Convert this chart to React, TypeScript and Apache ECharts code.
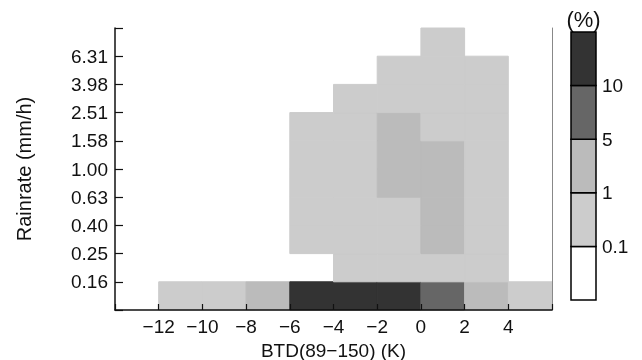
import React, { useEffect, useRef } from "react";
import * as echarts from "echarts";

// BTD bin starts (K), each bin is 2 K wide
const btdBins = [-12, -10, -8, -6, -4, -2, 0, 2, 4];
// Rain-rate tick labels at bin edges (index 0 = bottom edge 0.10, index 10 = top edge 10)
const rainTickLabels = ["", "0.16", "0.25", "0.40", "0.63", "1.00", "1.58", "2.51", "3.98", "6.31", ""];
// Frequency class per BTD bin, rows bottom to top (0: <0.1%, 1: 0.1–1%, 2: 1–5%, 3: 5–10%, 4: >10%)
const classM12 = [1, 0, 0, 0, 0, 0, 0, 0, 0, 0];
const classM10 = [1, 0, 0, 0, 0, 0, 0, 0, 0, 0];
const classM8 = [2, 0, 0, 0, 0, 0, 0, 0, 0, 0];
const classM6 = [4, 0, 1, 1, 1, 1, 1, 0, 0, 0];
const classM4 = [4, 1, 1, 1, 1, 1, 1, 1, 0, 0];
const classM2 = [4, 1, 1, 1, 2, 2, 2, 1, 1, 0];
const classP0 = [3, 1, 2, 2, 2, 2, 1, 1, 1, 1];
const classP2 = [2, 1, 1, 1, 1, 1, 1, 1, 1, 0];
const classP4 = [1, 0, 0, 0, 0, 0, 0, 0, 0, 0];
const columns = [classM12, classM10, classM8, classM6, classM4, classM2, classP0, classP2, classP4];
// Colour bar class boundaries labels
const barLabels = ["", "0.1", "1", "5", "10", ""];
const classColors = ["#ffffff", "#cccccc", "#bbbbbb", "#666666", "#333333"];

const FONT = "Liberation Sans, Arial, sans-serif";

export default function App() {
  const ref = useRef<HTMLDivElement>(null);
  useEffect(() => {
    if (!ref.current) return;
    const chart = echarts.init(ref.current, null, { renderer: "svg" });
    const cells: number[][] = [];
    columns.forEach((col, ci) => {
      col.forEach((lv, r) => {
        if (lv > 0) cells.push([btdBins[ci], r, lv]);
      });
    });
    const barData = classColors.map((_, i) => [0, i, i]);
    const fmtX = (v: number) => {
      if (v === -14 || v === 6) return "";
      return v < 0 ? "\u2212" + Math.abs(v) : String(v);
    };
    chart.setOption({
      animation: false,
      grid: [
        { left: 115, right: 90, top: 28, bottom: 50, containLabel: false, outerBoundsMode: "none" },
        { left: 571, width: 25, top: 32, height: 268, containLabel: false, outerBoundsMode: "none" },
      ],
      xAxis: [
        {
          type: "value",
          gridIndex: 0,
          min: -14,
          max: 6,
          interval: 2,
          z: 5,
          name: "BTD(89\u2212150) (K)",
          nameLocation: "middle",
          nameGap: 27,
          nameTextStyle: { fontFamily: FONT, fontSize: 19, color: "#111" },
          axisLine: { show: true, onZero: false, lineStyle: { color: "#111", width: 1.5 } },
          axisTick: { show: true, inside: true, length: 6, lineStyle: { color: "#111", width: 1.2 } },
          axisLabel: { formatter: fmtX, fontFamily: FONT, fontSize: 19, color: "#111", margin: 7, showMinLabel: true, showMaxLabel: true },
          splitLine: { show: false },
        },
        {
          type: "value",
          gridIndex: 1,
          min: 0,
          max: 1,
          position: "top",
          name: "(%)",
          nameLocation: "middle",
          nameGap: 2,
          nameTextStyle: { fontFamily: FONT, fontSize: 22, color: "#111" },
          axisLine: { show: false, onZero: false },
          axisTick: { show: false },
          axisLabel: { show: false },
          splitLine: { show: false },
        },
      ],
      yAxis: [
        {
          type: "value",
          gridIndex: 0,
          min: 0,
          max: 10,
          interval: 1,
          z: 5,
          name: "Rainrate (mm/h)",
          nameLocation: "middle",
          nameGap: 81,
          nameTextStyle: { fontFamily: FONT, fontSize: 20, color: "#111" },
          axisLine: { show: true, onZero: false, lineStyle: { color: "#111", width: 1.5 } },
          axisTick: { show: true, inside: true, length: 8, lineStyle: { color: "#111", width: 1.2 } },
          axisLabel: {
            formatter: (v: number) => rainTickLabels[Math.round(v)] ?? "",
            fontFamily: FONT,
            fontSize: 19,
            color: "#111",
            margin: 7,
            showMinLabel: true,
            showMaxLabel: true,
          },
          splitLine: { show: false },
        },
        {
          type: "value",
          gridIndex: 0,
          min: 0,
          max: 10,
          position: "right",
          z: 5,
          axisLine: { show: true, onZero: false, lineStyle: { color: "#888", width: 1 } },
          axisTick: { show: false },
          axisLabel: { show: false },
          splitLine: { show: false },
        },
        {
          type: "value",
          gridIndex: 1,
          min: 0,
          max: 5,
          interval: 1,
          position: "right",
          axisLine: { show: false, onZero: false },
          axisTick: { show: false },
          axisLabel: {
            formatter: (v: number) => barLabels[Math.round(v)] ?? "",
            fontFamily: FONT,
            fontSize: 19,
            color: "#111",
            margin: 6,
            showMinLabel: true,
            showMaxLabel: true,
          },
          splitLine: { show: false },
        },
      ],
      series: [
        {
          type: "custom",
          xAxisIndex: 0,
          yAxisIndex: 0,
          z: 1,
          data: cells,
          renderItem: (params: any, api: any) => {
            const x = api.value(0);
            const r = api.value(1);
            const lv = api.value(2);
            const p0 = api.coord([x, r]);
            const p1 = api.coord([x + 2, r + 1]);
            const c = classColors[lv];
            return {
              type: "rect",
              shape: { x: p0[0], y: p1[1], width: p1[0] - p0[0], height: p0[1] - p1[1] },
              style: { fill: c, stroke: c, lineWidth: 1 },
            };
          },
        },
        {
          type: "custom",
          xAxisIndex: 1,
          yAxisIndex: 2,
          data: barData,
          renderItem: (params: any, api: any) => {
            const r = api.value(1);
            const lv = api.value(2);
            const p0 = api.coord([0, r]);
            const p1 = api.coord([1, r + 1]);
            return {
              type: "rect",
              shape: { x: p0[0], y: p1[1], width: p1[0] - p0[0], height: p0[1] - p1[1] },
              style: { fill: classColors[lv], stroke: "#000", lineWidth: 1.5 },
            };
          },
        },
      ],
    });
    return () => chart.dispose();
  }, []);
  return <div ref={ref} style={{ position: "fixed", left: 0, top: 0, width: 642, height: 360 }} />;
}
